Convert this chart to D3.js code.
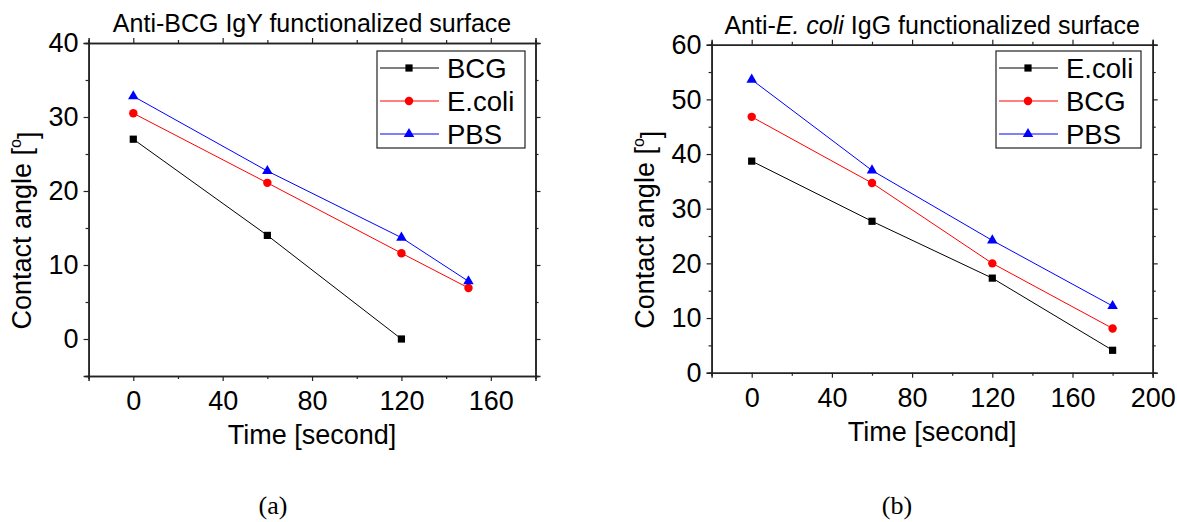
<!DOCTYPE html>
<html>
<head>
<meta charset="utf-8">
<script src="https://cdn.jsdelivr.net/npm/d3@7"></script>
<style>
body{margin:0;background:#fff;}
text{font-family:"Liberation Sans",Arial,sans-serif;fill:#000;}
</style>
</head>
<body>
<svg width="1177" height="522"></svg>
<script>
// panel (a): anti-BCG IgY surface
const timeA = [0, 60, 120, 150];
const bcgA = [27, 14, 0];
const ecoliA = [30.5, 21.1, 11.6, 6.9];
const pbsA = [32.8, 22.7, 13.7, 7.8];

// panel (b): anti-E. coli IgG surface
const timeB = [0, 60, 120, 180];
const ecoliB = [38.7, 27.7, 17.3, 4.1];
const bcgB = [46.8, 34.7, 20.0, 8.1];
const pbsB = [53.6, 37.0, 24.2, 12.2];

const xTicksA = [0, 40, 80, 120, 160];
const xMinorA = [-20, 20, 60, 100, 140, 180];
const yTicksA = [0, 10, 20, 30, 40];
const yMinorA = [-5, 5, 15, 25, 35];

const xTicksB = [0, 40, 80, 120, 160, 200];
const xMinorB = [-20, 20, 60, 100, 140, 180];
const yTicksB = [0, 10, 20, 30, 40, 50, 60];
const yMinorB = [5, 15, 25, 35, 45, 55];

const svg = d3.select("svg");

const symbols = {square: d3.symbolSquare, circle: d3.symbolCircle, triangle: d3.symbolTriangle};
const symSize = {square: 52, circle: 56, triangle: 48};

let drawPanel = (p) => {
  let x = d3.scaleLinear().domain(p.xDomain).range([p.left, p.right]);
  let y = d3.scaleLinear().domain(p.yDomain).range([p.bottom, p.top]);
  let g = svg.append("g");

  // minor ticks first, then major ticks with labels, on all 4 sides
  let axisStyle = (sel) => {
    sel.select(".domain").attr("stroke", "#222").attr("stroke-width", 1.5);
    sel.selectAll(".tick line").attr("stroke", "#222").attr("stroke-width", 1.2);
    sel.selectAll("text").style("font-size", "27px").attr("fill", "#000");
  };
  let add = (axis, tr) => g.append("g").attr("transform", tr).call(axis).call(axisStyle);

  add(d3.axisBottom(x).tickValues(p.xMinor).tickSize(3).tickFormat(""), `translate(0,${p.bottom})`);
  add(d3.axisTop(x).tickValues(p.xMinor).tickSize(3).tickFormat(""), `translate(0,${p.top})`);
  add(d3.axisLeft(y).tickValues(p.yMinor).tickSize(3).tickFormat(""), `translate(${p.left},0)`);
  add(d3.axisRight(y).tickValues(p.yMinor).tickSize(3).tickFormat(""), `translate(${p.right},0)`);

  add(d3.axisBottom(x).tickValues(p.xTicks).tickSize(5).tickPadding(5).tickFormat(d3.format("d")), `translate(0,${p.bottom})`)
    .selectAll("text").attr("dy", "0.9em");
  add(d3.axisTop(x).tickValues(p.xTicks).tickSize(5).tickFormat(""), `translate(0,${p.top})`);
  add(d3.axisLeft(y).tickValues(p.yTicks).tickSize(5).tickPadding(5).tickFormat(d3.format("d")), `translate(${p.left},0)`);
  add(d3.axisRight(y).tickValues(p.yTicks).tickSize(5).tickFormat(""), `translate(${p.right},0)`);

  // series
  p.series.forEach((s) => {
    let pts = s.values.map((v, i) => [p.time[i], v]);
    g.append("path")
      .datum(pts)
      .attr("fill", "none")
      .attr("stroke", s.color)
      .attr("stroke-width", 1)
      .attr("d", d3.line().x(d => x(d[0])).y(d => y(d[1])));
    g.selectAll(null)
      .data(pts)
      .enter()
      .append("path")
      .attr("transform", d => `translate(${x(d[0])},${y(d[1])})`)
      .attr("fill", s.color)
      .attr("d", d3.symbol().type(symbols[s.symbol]).size(symSize[s.symbol]));
  });

  // legend
  let lg = g.append("g");
  lg.append("rect")
    .attr("x", p.legend.x).attr("y", p.legend.y)
    .attr("width", p.legend.w).attr("height", 97)
    .attr("fill", "#fff").attr("stroke", "#222").attr("stroke-width", 1.2);
  p.series.forEach((s, i) => {
    let ry = p.legend.y + 17 + i * 33;
    lg.append("line")
      .attr("x1", p.legend.x + 3).attr("x2", p.legend.x + 62)
      .attr("y1", ry).attr("y2", ry)
      .attr("stroke", s.color).attr("stroke-width", 1);
    lg.append("path")
      .attr("transform", `translate(${p.legend.x + 32},${ry})`)
      .attr("fill", s.color)
      .attr("d", d3.symbol().type(symbols[s.symbol]).size(symSize[s.symbol]));
    lg.append("text")
      .attr("x", p.legend.x + 70).attr("y", ry + 10)
      .style("font-size", "27.5px")
      .text(s.name);
  });

  // axis titles
  let cx = (p.left + p.right) / 2;
  g.append("text")
    .attr("x", cx).attr("y", p.bottom + 68)
    .attr("text-anchor", "middle")
    .style("font-size", "27px")
    .text("Time [second]");

  let yt = g.append("text")
    .attr("transform", `translate(${p.left - 58},${(p.top + p.bottom) / 2 + 21}) rotate(-90)`)
    .attr("text-anchor", "middle")
    .style("font-size", "27px");
  yt.append("tspan").text("Contact angle [");
  yt.append("tspan").attr("dy", "-0.6em").style("font-size", "16px").text("o");
  yt.append("tspan").attr("dy", "0.6em").text("]");

  // chart title
  let t = g.append("text")
    .attr("x", cx).attr("y", p.top - 11)
    .attr("text-anchor", "middle")
    .style("font-size", "25px");
  p.title.forEach((part) => {
    t.append("tspan").style("font-style", part[1] ? "italic" : "normal").text(part[0]);
  });

  // panel letter
  svg.append("text")
    .attr("x", p.letterX).attr("y", 514)
    .attr("text-anchor", "middle")
    .style("font-family", "'Liberation Serif','Times New Roman',serif")
    .style("font-size", "26px")
    .text(p.letter);
};

drawPanel({
  left: 88.6, right: 535.5, top: 43, bottom: 376,
  xDomain: [-20, 180], yDomain: [-5, 40],
  xTicks: xTicksA, xMinor: xMinorA, yTicks: yTicksA, yMinor: yMinorA,
  time: timeA,
  series: [
    {name: "BCG", values: bcgA, color: "#000", symbol: "square"},
    {name: "E.coli", values: ecoliA, color: "#ff0000", symbol: "circle"},
    {name: "PBS", values: pbsA, color: "#0000ff", symbol: "triangle"}
  ],
  legend: {x: 377, y: 51, w: 148},
  title: [["Anti-BCG IgY functionalized surface", false]],
  letter: "(a)", letterX: 273
});

drawPanel({
  left: 711.6, right: 1152.7, top: 44.7, bottom: 372.7,
  xDomain: [-20, 200], yDomain: [0, 60],
  xTicks: xTicksB, xMinor: xMinorB, yTicks: yTicksB, yMinor: yMinorB,
  time: timeB,
  series: [
    {name: "E.coli", values: ecoliB, color: "#000", symbol: "square"},
    {name: "BCG", values: bcgB, color: "#ff0000", symbol: "circle"},
    {name: "PBS", values: pbsB, color: "#0000ff", symbol: "triangle"}
  ],
  legend: {x: 996, y: 51, w: 145},
  title: [["Anti-", false], ["E. coli", true], [" IgG functionalized surface", false]],
  letter: "(b)", letterX: 897
});
</script>
</body>
</html>
